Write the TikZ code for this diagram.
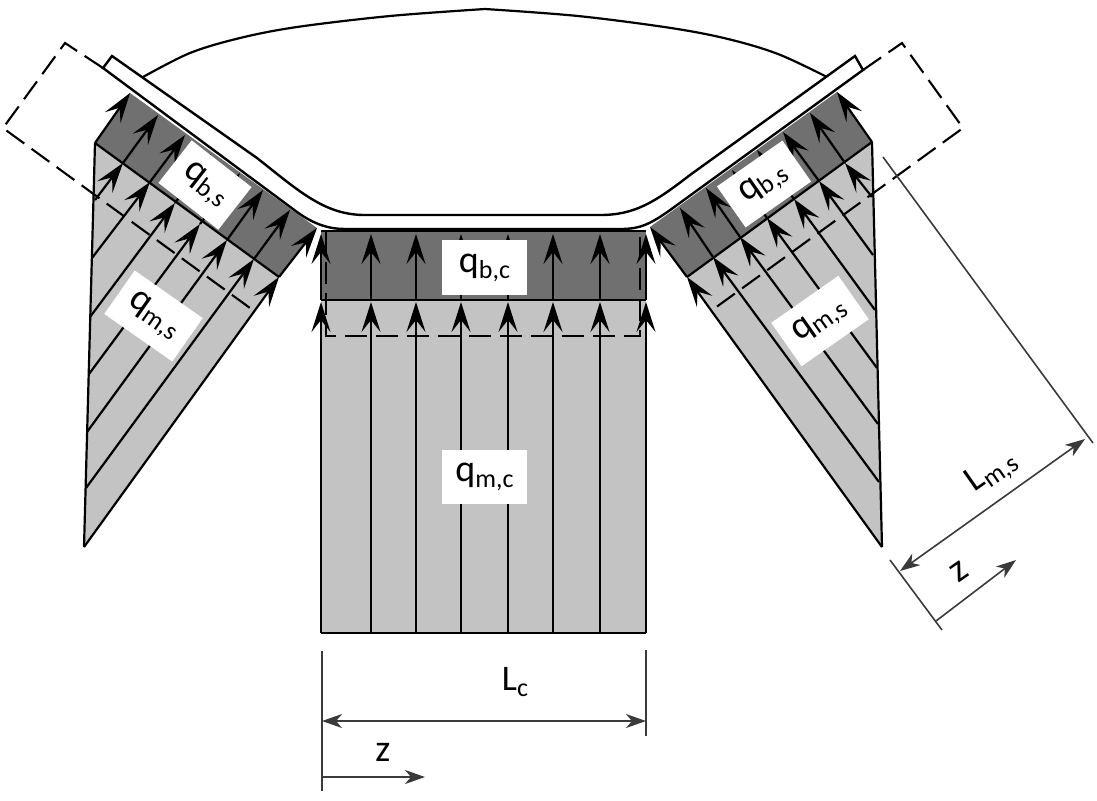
\documentclass[tikz,border=0pt]{standalone}
\usepackage{fontspec}
\setmainfont{Carlito}
\usetikzlibrary{arrows.meta}
\definecolor{bandgray}{HTML}{707070}
\definecolor{lightgray2}{HTML}{C3C3C3}
\definecolor{dimgray2}{HTML}{3A3A3A}
\newcommand{\bigq}[1]{{\fontsize{19}{20}\selectfont q\raisebox{-3pt}{\fontsize{13}{14}\selectfont #1}}}
\newcommand{\dimtext}[2]{{\fontsize{18}{20}\selectfont #1\raisebox{-3pt}{\fontsize{13}{14}\selectfont #2}}}
\tikzset{
  load/.style={line width=1.1pt,black,-{Stealth[length=15pt,width=9.5pt,inset=6pt]}},
  outline/.style={line width=1.1pt,black},
  dashrect/.style={line width=1.05pt,black,dash pattern=on 11pt off 4.5pt},
  dimline/.style={line width=0.8pt,dimgray2},
  dimarrow/.style={line width=0.8pt,dimgray2,{Stealth[length=10pt,width=7pt,inset=3pt]}-{Stealth[length=10pt,width=7pt,inset=3pt]}},
  zarrow/.style={line width=0.8pt,dimgray2,-{Stealth[length=10pt,width=7pt,inset=3pt]}},
  labelbox/.style={fill=white,inner sep=0pt,align=center},
  dimlabel/.style={inner sep=0pt,black}
}
\begin{document}
\begin{tikzpicture}[x=0.5pt,y=-0.5pt]
\useasboundingbox (0,0) rectangle (1097,800);
% fills
\fill[lightgray2] (321,300) rectangle (646,633);
\fill[bandgray] (321,231) rectangle (646,300);
\fill[lightgray2] (95,143) -- (279,277) -- (84,547) -- cycle;
\fill[bandgray] (130,93) -- (317,228) -- (279,277) -- (95,143) -- cycle;
\fill[lightgray2] (872,142) -- (687,277) -- (882,547) -- cycle;
\fill[bandgray] (837,92) -- (650,227) -- (687,277) -- (872,142) -- cycle;
% centre load lines
\foreach \x in {321,371,416,461,508,553,600,646}{
  \draw[load] (\x,633) -- (\x,302);
  \draw[load] (\x,300) -- (\x,234);
}
\draw[outline] (321,633) -- (646,633);
\draw[outline,line width=0.9pt] (321,300) -- (646,300);
\draw[outline] (321,231) -- (646,231);
% left load lines
\draw[load] (95,143) -- (130,93);
\foreach \xa/\ya/\xb/\yb/\xc/\yc in {
  158/115/123/163/95/200,
  185/135/150/182/92/258,
  211/154/175/203/90/317,
  240/173/200/224/89/374,
  263/190/227/240/87/432,
  290/210/254/259/86/488,
  317/228/279/277/84/547}{
  \draw[load] (\xc,\yc) -- (\xb,\yb);
  \draw[load] (\xb,\yb) -- (\xa,\ya);
}
\draw[outline] (95,143) -- (84,547);
\draw[outline] (95,143) -- (279,277);
% right load lines
\draw[load] (872,142) -- (837,92);
\foreach \xa/\ya/\xb/\yb/\xc/\yc in {
  810/113/845/163/872/197,
  783/132/819/181/873/255,
  757/150/794/199/875/310,
  732/170/767/218/877/368,
  706/188/740/237/878/424,
  680/208/713/257/879/482,
  650/227/687/277/882/547}{
  \draw[load] (\xc,\yc) -- (\xb,\yb);
  \draw[load] (\xb,\yb) -- (\xa,\ya);
}
\draw[outline] (872,142) -- (882,547);
\draw[outline] (872,142) -- (687,277);
% dome
\draw[outline] plot[smooth,tension=0.55] coordinates {(143,77) (190,53) (240,38) (297,27) (390,16) (485,9)};
\draw[outline] plot[smooth,tension=0.55] coordinates {(485,9) (578,16) (671,28) (728,39) (778,54) (827,77)};
% plate
\draw[outline,line width=1.2pt,fill=white] (103,68) -- (112,56) -- (257,158)
  .. controls (300,192) and (325,215) .. (365,215) -- (600,215)
  .. controls (635,215) and (655,202) .. (690,175)
  -- (855,56) -- (863,70) -- (677,205)
  .. controls (650,225) and (640,229) .. (620,229) -- (345,229)
  .. controls (330,229) and (315,225) .. (297,212) -- cycle;
% dashed outlines
\draw[dashrect] (326,231) -- (326,336) -- (640,336) -- (640,231);
\draw[dashrect] (103,68) -- (65,43) -- (3,128) -- (250,308);
\draw[dashrect] (863,70) -- (902,43) -- (963,128) -- (715,308);
% labels
\node[labelbox,minimum width=42.5pt,minimum height=27.5pt] (qbc) at (484.5,267.5) {\bigq{b,c}};
\node[labelbox,minimum width=42.5pt,minimum height=27pt] (qmc) at (484.5,477) {\bigq{m,c}};
\node[labelbox,minimum width=38pt,minimum height=27pt,rotate=-38] (qbsl) at (205,185) {\bigq{b,s}};
\node[labelbox,minimum width=41.5pt,minimum height=26.5pt,rotate=-35] (qmsl) at (153.5,316) {\bigq{m,s}};
\node[labelbox,minimum width=40pt,minimum height=25pt,rotate=35] (qbsr) at (764,184) {\bigq{b,s}};
\node[labelbox,minimum width=41pt,minimum height=26.5pt,rotate=35] (qmsr) at (820,321) {\bigq{m,s}};
% centre dimensions
\coordinate (lca) at (322,651);
\coordinate (lcb) at (322,791);
\coordinate (rca) at (646,650);
\coordinate (rcb) at (646,736);
\coordinate (lct) at (322,721);
\coordinate (rct) at (646,721);
\coordinate (zs) at (322,777);
\coordinate (ze) at (425,777);
\draw[dimline] (lca) -- (lcb);
\draw[dimline] (rca) -- (rcb);
\draw[dimarrow] (lct) -- (rct);
\draw[zarrow] (zs) -- (ze);
\node[dimlabel] (lc) at (515,682) {\dimtext{L}{c}};
\node[dimlabel] (zc) at (383,752) {\fontsize{19}{20}\selectfont z};
% side dimensions
\coordinate (e1a) at (883,157);
\coordinate (e1b) at (1093,443);
\coordinate (e2a) at (890,560);
\coordinate (e2b) at (942,630);
\coordinate (ma) at (900,571);
\coordinate (mb) at (1085,439);
\coordinate (zsa) at (936,621);
\coordinate (zsb) at (1016,560);
\draw[dimline] (e1a) -- (e1b);
\draw[dimline] (e2a) -- (e2b);
\draw[dimarrow] (ma) -- (mb);
\draw[zarrow] (zsa) -- (zsb);
\node[dimlabel,rotate=35] (lms) at (992,472) {\dimtext{L}{m,s}};
\node[dimlabel,rotate=35] (zr) at (959,572) {\fontsize{19}{20}\selectfont z};
\end{tikzpicture}
\end{document}
